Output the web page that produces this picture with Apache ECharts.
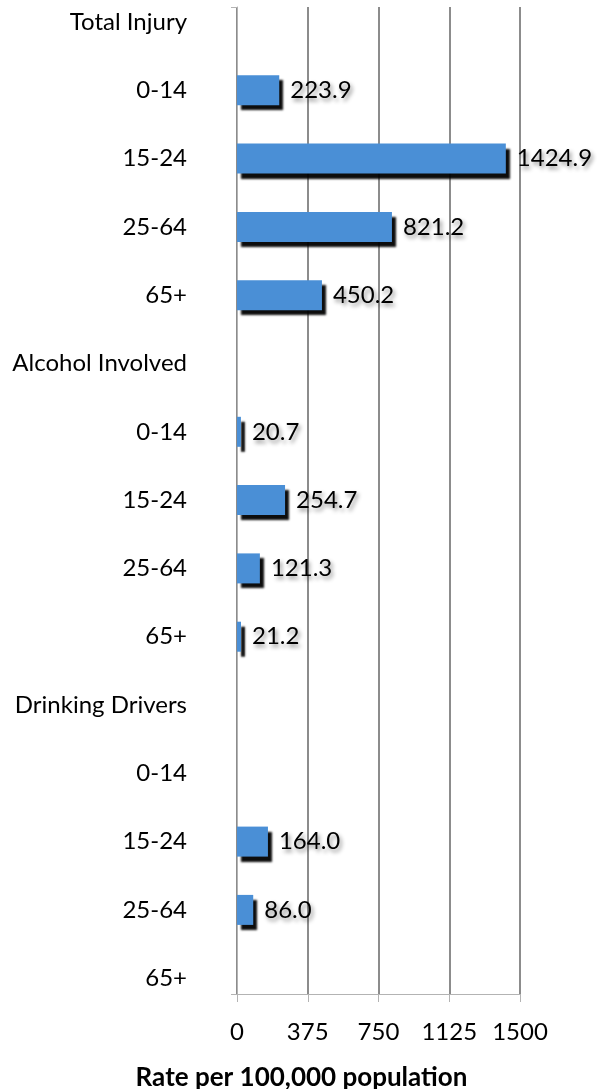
<!DOCTYPE html>
<html>
<head>
<meta charset="utf-8">
<script src="https://cdn.jsdelivr.net/npm/echarts@6/dist/echarts.min.js"></script>
<style>
  html, body { margin: 0; padding: 0; background: #fff; }
  #chart { width: 603px; height: 1089px; }
</style>
</head>
<body>
<div id="chart"></div>
<script>
// rows from top to bottom; group headers carry no bar
const categories = [
  'Total Injury', '0-14', '15-24', '25-64', '65+',
  'Alcohol Involved', '0-14', '15-24', '25-64', '65+',
  'Drinking Drivers', '0-14', '15-24', '25-64', '65+',
]
const rates = [
  null, 223.9, 1424.9, 821.2, 450.2,
  null, 20.7, 254.7, 121.3, 21.2,
  null, null, 164.0, 86.0, null,
]
const xTicks = [0, 375, 750, 1125, 1500]
const xTitle = 'Rate per 100,000 population'

const FONT = 'Lato'
const LEFT = 237
const WIDTH = 283

const chart = echarts.init(document.getElementById('chart'))

chart.setOption({
  animation: false,
  textStyle: { fontFamily: FONT },
  title: {
    text: xTitle,
    left: 'center',
    top: 1060,
    textStyle: { fontFamily: FONT, fontSize: 26, fontWeight: 'bold', color: '#000' },
  },
  grid: [
    // bars
    { left: LEFT, width: WIDTH, top: -12.15, height: 1024.5, outerBoundsMode: 'none', containLabel: false },
    // frame: axes, gridlines, tick labels
    { left: LEFT, width: WIDTH, top: 7, bottom: 95, outerBoundsMode: 'none', containLabel: false },
  ],
  xAxis: [
    { gridIndex: 0, type: 'value', min: 0, max: 1500, show: false },
    {
      gridIndex: 1,
      type: 'value',
      min: xTicks[0],
      max: xTicks[xTicks.length - 1],
      interval: 375,
      axisLine: { show: true, lineStyle: { color: '#b3b3b3', width: 1 } },
      axisTick: { show: true, length: 8, lineStyle: { color: '#b3b3b3' } },
      axisLabel: {
        margin: 26,
        fontSize: 24,
        color: '#000',
        fontFamily: FONT,
        formatter: (v) => String(v),
      },
      splitLine: { show: true, lineStyle: { color: '#8c8c8c', width: 2 } },
    },
  ],
  yAxis: [
    {
      gridIndex: 0,
      type: 'category',
      data: categories,
      inverse: true,
      axisLine: { show: false },
      axisTick: { show: false },
      axisLabel: { margin: 50, fontSize: 24, color: '#000', fontFamily: FONT },
    },
    {
      gridIndex: 1,
      type: 'value',
      min: 0,
      max: 1,
      interval: 1,
      axisLine: { show: true, lineStyle: { color: '#b3b3b3', width: 1 } },
      axisTick: { show: true, length: 6, lineStyle: { color: '#b3b3b3' } },
      axisLabel: { show: false },
      splitLine: { show: false },
    },
  ],
  series: [
    {
      type: 'bar',
      xAxisIndex: 0,
      yAxisIndex: 0,
      data: rates,
      barWidth: 30,
      itemStyle: {
        color: '#4a8fd6',
        shadowColor: 'rgba(0,0,0,0.95)',
        shadowBlur: 2,
        shadowOffsetX: 4,
        shadowOffsetY: 5,
      },
      label: {
        show: true,
        position: 'right',
        distance: 11,
        fontSize: 24,
        fontFamily: FONT,
        color: '#000',
        textShadowColor: 'rgba(0,0,0,0.45)',
        textShadowBlur: 4,
        textShadowOffsetX: 2,
        textShadowOffsetY: 3,
        formatter: (p) => (p.value == null ? '' : Number(p.value).toFixed(1)),
      },
    },
  ],
})
</script>
</body>
</html>
